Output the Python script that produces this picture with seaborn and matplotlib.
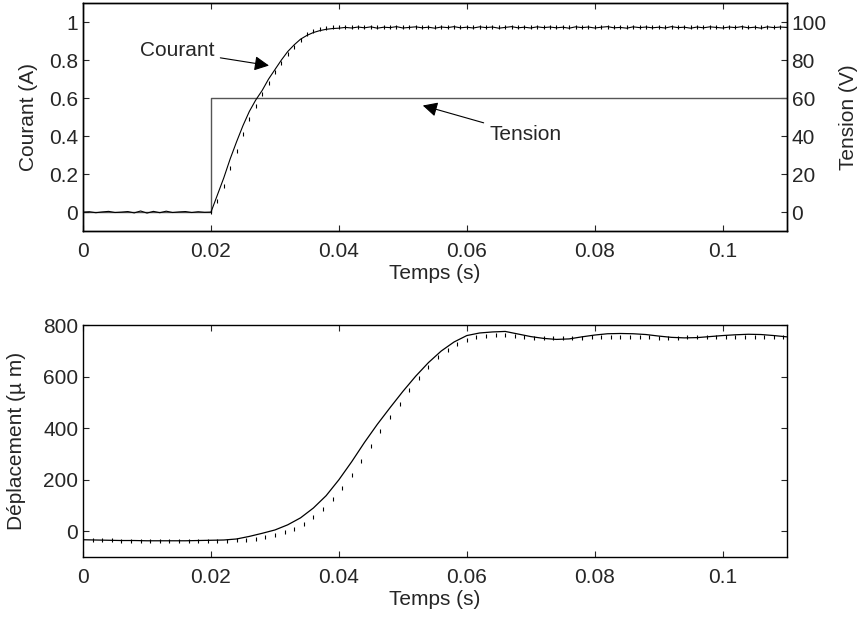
import numpy as np
import pandas as pd
import matplotlib
matplotlib.use('Agg')
import matplotlib.pyplot as plt
import seaborn as sns

# --- donnees ---
# courant mesure, pas de 1 ms de 0 a 0.11 s
t_courant = np.linspace(0, 0.11, 111)
courant_mes = [0.000, 0.002, -0.003, 0.001, 0.004, -0.002, 0.000, 0.003, -0.004, 0.006,
               -0.005, 0.004, -0.003, 0.005, -0.002, 0.001, 0.003, -0.002, 0.002, -0.001,
               0.000, 0.090, 0.180, 0.280, 0.370, 0.455, 0.530, 0.590, 0.640, 0.700,
               0.750, 0.800, 0.845, 0.880, 0.910, 0.930, 0.945, 0.955, 0.962, 0.966,
               0.968, 0.972, 0.969, 0.974, 0.970, 0.975, 0.968, 0.973, 0.971, 0.976,
               0.969, 0.972, 0.975, 0.970, 0.973, 0.968, 0.974, 0.971, 0.976, 0.970,
               0.973, 0.969, 0.975, 0.971, 0.974, 0.968, 0.972, 0.976, 0.970, 0.973,
               0.969, 0.975, 0.971, 0.974, 0.970, 0.973, 0.968, 0.975, 0.971, 0.974,
               0.969, 0.973, 0.976, 0.970, 0.972, 0.968, 0.975, 0.971, 0.974, 0.970,
               0.973, 0.969, 0.976, 0.971, 0.973, 0.968, 0.974, 0.970, 0.975, 0.972,
               0.969, 0.974, 0.971, 0.976, 0.970, 0.973, 0.968, 0.975, 0.971, 0.974,
               0.972]

# courant simule, pas de 1 ms de 0.02 a 0.11 s
t_courant_sim = np.linspace(0.02, 0.11, 91)
courant_sim = [0.000, 0.060, 0.140, 0.230, 0.320, 0.410, 0.490, 0.560, 0.620, 0.680,
               0.735, 0.785, 0.830, 0.870, 0.905, 0.935, 0.955, 0.965, 0.970, 0.972,
               0.972, 0.972, 0.972, 0.972, 0.972, 0.972, 0.972, 0.972, 0.972, 0.972,
               0.972, 0.972, 0.972, 0.972, 0.972, 0.972, 0.972, 0.972, 0.972, 0.972,
               0.972, 0.972, 0.972, 0.972, 0.972, 0.972, 0.972, 0.972, 0.972, 0.972,
               0.972, 0.972, 0.972, 0.972, 0.972, 0.972, 0.972, 0.972, 0.972, 0.972,
               0.972, 0.972, 0.972, 0.972, 0.972, 0.972, 0.972, 0.972, 0.972, 0.972,
               0.972, 0.972, 0.972, 0.972, 0.972, 0.972, 0.972, 0.972, 0.972, 0.972,
               0.972, 0.972, 0.972, 0.972, 0.972, 0.972, 0.972, 0.972, 0.972, 0.972,
               0.972]

# tension (echelon)
t_tension = [0.0, 0.02, 0.02, 0.11]
tension = [0, 0, 60, 60]

# deplacement mesure, pas de 2 ms
t_depl = np.linspace(0, 0.11, 56)
depl_mes = [-33, -34, -35, -36, -36, -37, -37, -37, -37, -36,
            -35, -34, -30, -20, -8, 5, 25, 52, 90, 138,
            200, 270, 345, 415, 480, 543, 602, 655, 700, 735,
            760, 770, 774, 776, 766, 756, 749, 745, 747, 755,
            762, 767, 768, 767, 764, 758, 753, 751, 752, 756,
            760, 763, 765, 764, 760, 755]

# deplacement simule, pas de 1.5 ms
t_depl_sim = np.linspace(0, 0.1095, 74)
depl_sim = [-33, -34, -35, -35, -36, -36, -37, -37, -37, -37,
            -37, -37, -37, -37, -36, -36, -35, -33, -29, -23,
            -15, -4, 10, 30, 55, 87, 125, 168, 218, 274,
            330, 388, 442, 496, 548, 596, 638, 675, 705, 728,
            744, 754, 760, 763, 763, 760, 756, 752, 750, 749,
            749, 750, 752, 754, 755, 756, 756, 755, 754, 753,
            752, 752, 752, 753, 754, 755, 756, 756, 756, 756,
            755, 755, 755, 754]

xticks = [0, 0.02, 0.04, 0.06, 0.08, 0.1]
xticklabels = ['0', '0.02', '0.04', '0.06', '0.08', '0.1']

sns.set_style('ticks')
plt.rcParams['font.family'] = ['Liberation Sans', 'DejaVu Sans']
plt.rcParams['font.size'] = 15
plt.rcParams['xtick.direction'] = 'in'
plt.rcParams['ytick.direction'] = 'in'
plt.rcParams['xtick.major.size'] = 4
plt.rcParams['ytick.major.size'] = 4
plt.rcParams['xtick.major.pad'] = 8
plt.rcParams['axes.linewidth'] = 1.0
plt.rcParams['axes.edgecolor'] = 'black'

fs = 15
fig = plt.figure(figsize=(8.57, 6.18), dpi=100)

# ---- graphique du haut ----
ax1 = fig.add_axes([0.0969, 0.626, 0.821, 0.369])
ax2 = ax1.twinx()
sns.lineplot(x=t_tension, y=tension, ax=ax2, color='#555555', lw=1.0,
             sort=False, estimator=None)
sns.lineplot(x=t_courant, y=courant_mes, ax=ax1, color='black', lw=0.8)
ax1.plot(t_courant_sim, courant_sim, ls='none', marker='|', ms=3, mew=0.8, color='black')

ax1.set_xlim(0, 0.11)
ax1.set_ylim(-0.1, 1.1)
ax2.set_ylim(-10, 110)
ax1.set_xticks(xticks)
ax1.set_xticklabels(xticklabels)
ax1.set_yticks([0, 0.2, 0.4, 0.6, 0.8, 1])
ax1.set_yticklabels(['0', '0.2', '0.4', '0.6', '0.8', '1'])
ax2.set_yticks([0, 20, 40, 60, 80, 100])
ax1.tick_params(top=True, labelsize=fs)
ax2.tick_params(labelsize=fs)
ax1.set_xlabel('Temps (s)', fontsize=fs, labelpad=2)
ax1.set_ylabel('Courant (A)', fontsize=fs, labelpad=8)
ax2.set_ylabel('Tension (V)', fontsize=fs, labelpad=9)
ax1.set_zorder(ax2.get_zorder() + 1)
ax1.patch.set_visible(False)

ax1.annotate('Courant', xy=(0.0295, 0.769), xytext=(0.0147, 0.848),
             ha='center', va='center', fontsize=fs,
             arrowprops=dict(arrowstyle='-|>', color='black', lw=0.8, mutation_scale=22))
ax1.annotate('Tension', xy=(0.0527, 0.565), xytext=(0.0692, 0.407),
             ha='center', va='center', fontsize=fs,
             arrowprops=dict(arrowstyle='-|>', color='black', lw=0.8, mutation_scale=22))

# ---- graphique du bas ----
ax3 = fig.add_axes([0.0969, 0.0987, 0.821, 0.375])
sns.lineplot(x=t_depl, y=depl_mes, ax=ax3, color='black', lw=0.9)
ax3.plot(t_depl_sim, depl_sim, ls='none', marker='|', ms=3, mew=0.8, color='black')
ax3.set_xlim(0, 0.11)
ax3.set_ylim(-100, 800)
ax3.set_xticks(xticks)
ax3.set_xticklabels(xticklabels)
ax3.set_yticks([0, 200, 400, 600, 800])
ax3.tick_params(top=True, right=True, labelsize=fs)
ax3.set_xlabel('Temps (s)', fontsize=fs, labelpad=2)
ax3.set_ylabel('Déplacement (µ m)', fontsize=fs, labelpad=12)

fig.savefig('out.png', dpi=100)
